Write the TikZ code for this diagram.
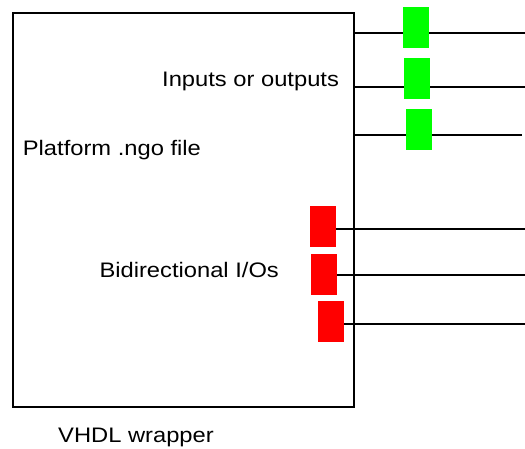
\documentclass[tikz,border=0pt]{standalone}
\usepackage{fontspec}
\setmainfont{Liberation Sans}
\begin{document}
\begin{tikzpicture}[x=1pt,y=-1pt,
  port/.style={draw=none, inner sep=0pt, minimum width=26pt, minimum height=40.7pt, anchor=north west},
  gport/.style={port, fill=green},
  rport/.style={port, fill=red},
  lbl/.style={font=\fontsize{21}{25}\selectfont, inner sep=0pt, anchor=base west},
  wire/.style={line width=1.7pt},
  frame/.style={draw, line width=2pt, inner sep=0pt, anchor=north west, minimum width=341pt, minimum height=394pt}]
\useasboundingbox (0,0) rectangle (525,448);
\node[frame] (box) at (12,12) {};
% green ports
\node[gport] (g1) at (403,7) {};
\node[gport] (g2) at (404,58) {};
\node[gport] (g3) at (406,109) {};
% red ports
\node[rport] (r1) at (310,206) {};
\node[rport] (r2) at (311,254) {};
\node[rport] (r3) at (318,301) {};
% free ends
\coordinate (e1) at (525,32.7);
\coordinate (e2) at (525,87);
\coordinate (e3) at (522,135);
\coordinate (e4) at (525,229);
\coordinate (e5) at (525,275);
\coordinate (e6) at (525,324);
\draw[wire] (box.east |- e1) -- (g1.west |- e1);
\draw[wire] (g1.east |- e1) -- (e1);
\draw[wire] (box.east |- e2) -- (g2.west |- e2);
\draw[wire] (g2.east |- e2) -- (e2);
\draw[wire] (box.east |- e3) -- (g3.west |- e3);
\draw[wire] (g3.east |- e3) -- (e3);
\draw[wire] (r1.east |- e4) -- (e4);
\draw[wire] (r2.east |- e5) -- (e5);
\draw[wire] (r3.east |- e6) -- (e6);
% labels
\node[lbl] (t1) at (162,86.7) {\scalebox{1.13}[1]{Inputs or outputs}};
\node[lbl] (t2) at (22.7,155) {\scalebox{1.13}[1]{Platform .ngo file}};
\node[lbl] (t3) at (99.3,277.5) {\scalebox{1.13}[1]{Bidirectional I/Os}};
\node[lbl] (t4) at (58,442.5) {\scalebox{1.13}[1]{VHDL wrapper}};
\end{tikzpicture}
\end{document}
